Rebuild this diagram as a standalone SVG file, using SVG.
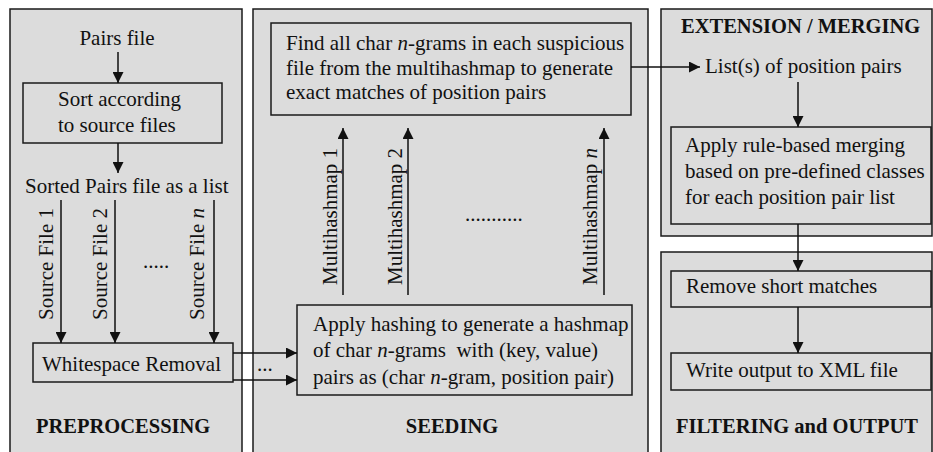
<svg xmlns="http://www.w3.org/2000/svg" width="933" height="452" viewBox="0 0 933 452">
<style>
.panel{fill:#dcdcdc;stroke:#1a1a1a;stroke-width:1.5}
.box{fill:none;stroke:#1a1a1a;stroke-width:1.5}
.t{font-family:"Liberation Serif","Times New Roman",serif;font-size:21px;fill:#111}
.b{font-family:"Liberation Serif","Times New Roman",serif;font-size:20.5px;font-weight:bold;fill:#111}
.c{stroke:#111;stroke-width:1.5;fill:none}
.ar{marker-end:url(#ah)}
</style>
<defs>
<marker id="ah" markerUnits="userSpaceOnUse" markerWidth="11" markerHeight="11" viewBox="0 0 10 10" refX="10" refY="5" orient="auto">
<path d="M0,0 L10,5 L0,10 z" fill="#111"/>
</marker>
</defs>
<rect width="933" height="452" fill="#fff"/>

<g id="panel-preprocessing">
<rect class="panel" x="10" y="9" width="232" height="460"/>
<text class="b" x="36" y="433">PREPROCESSING</text>
</g>
<g id="panel-seeding">
<rect class="panel" x="253" y="9" width="395" height="460"/>
<text class="b" x="452" y="433" text-anchor="middle">SEEDING</text>
</g>
<g id="panel-extension">
<rect class="panel" x="661" y="9" width="271" height="227"/>
<text class="b" x="681" y="33">EXTENSION / MERGING</text>
</g>
<g id="panel-filtering">
<rect class="panel" x="661" y="252" width="271" height="220"/>
<text class="b" x="676" y="433">FILTERING and OUTPUT</text>
</g>

<g id="pairs-file">
<text class="t" x="117" y="45" text-anchor="middle">Pairs file</text>
</g>
<g id="sort">
<rect class="box" x="23" y="83" width="199" height="60"/>
<text class="t" x="58" y="106">Sort according</text>
<text class="t" x="58" y="132">to source files</text>
</g>
<g id="sorted-list">
<text class="t" x="25" y="193">Sorted Pairs file as a list</text>
</g>
<g id="whitespace">
<rect class="box" x="33" y="343" width="200" height="39"/>
<text class="t" x="42" y="371">Whitespace Removal</text>
</g>
<g id="find">
<rect class="box" x="271" y="23" width="360" height="92"/>
<text class="t" x="286" y="50">Find all char <tspan font-style="italic">n</tspan>-grams in each suspicious</text>
<text class="t" x="286" y="75">file from the multihashmap to generate</text>
<text class="t" x="286" y="99">exact matches of position pairs</text>
</g>
<g id="hashing">
<rect class="box" x="297" y="305" width="335" height="90"/>
<text class="t" x="313" y="331">Apply hashing to generate a hashmap</text>
<text class="t" x="313" y="357" style="white-space:pre">of char <tspan font-style="italic">n</tspan>-grams  with (key, value)</text>
<text class="t" x="313" y="384">pairs as (char <tspan font-style="italic">n</tspan>-gram, position pair)</text>
</g>
<g id="list-pairs">
<text class="t" x="705" y="73">List(s) of position pairs</text>
</g>
<g id="merging">
<rect class="box" x="671" y="127" width="260" height="97"/>
<text class="t" x="685" y="152">Apply rule-based merging</text>
<text class="t" x="685" y="178">based on pre-defined classes</text>
<text class="t" x="685" y="204">for each position pair list</text>
</g>
<g id="remove">
<rect class="box" x="671" y="271" width="260" height="36"/>
<text class="t" x="686" y="293">Remove short matches</text>
</g>
<g id="write">
<rect class="box" x="671" y="353" width="260" height="37"/>
<text class="t" x="686" y="377">Write output to XML file</text>
</g>

<g id="connectors">
<line class="c ar" x1="118" y1="52" x2="118" y2="83"/>
<line class="c ar" x1="118" y1="143" x2="118" y2="173"/>
<line class="c ar" x1="61" y1="200" x2="61" y2="343"/>
<line class="c ar" x1="115" y1="200" x2="115" y2="343"/>
<line class="c ar" x1="214" y1="200" x2="214" y2="343"/>
<text class="t" x="53" y="320" transform="rotate(-90 53 320)">Source File 1</text>
<text class="t" x="107" y="320" transform="rotate(-90 107 320)">Source File 2</text>
<text class="t" x="204" y="320" transform="rotate(-90 204 320)">Source File <tspan font-style="italic">n</tspan></text>
<text class="t" x="143" y="268">.....</text>
<line class="c ar" x1="233" y1="353" x2="297" y2="353"/>
<line class="c ar" x1="233" y1="380" x2="297" y2="380"/>
<text class="t" x="257" y="371">...</text>
<line class="c ar" x1="343" y1="295" x2="343" y2="128"/>
<line class="c ar" x1="408" y1="295" x2="408" y2="128"/>
<line class="c ar" x1="604" y1="295" x2="604" y2="128"/>
<text class="t" x="337" y="285" transform="rotate(-90 337 285)">Multihashmap 1</text>
<text class="t" x="402" y="285" transform="rotate(-90 402 285)">Multihashmap 2</text>
<text class="t" x="597" y="285" transform="rotate(-90 597 285)">Multihashmap <tspan font-style="italic">n</tspan></text>
<text class="t" x="465" y="221">...........</text>
<line class="c ar" x1="631" y1="67" x2="700" y2="67"/>
<line class="c ar" x1="798" y1="82" x2="798" y2="127"/>
<line class="c ar" x1="798" y1="224" x2="798" y2="271"/>
<line class="c ar" x1="798" y1="307" x2="798" y2="353"/>
</g>
</svg>
